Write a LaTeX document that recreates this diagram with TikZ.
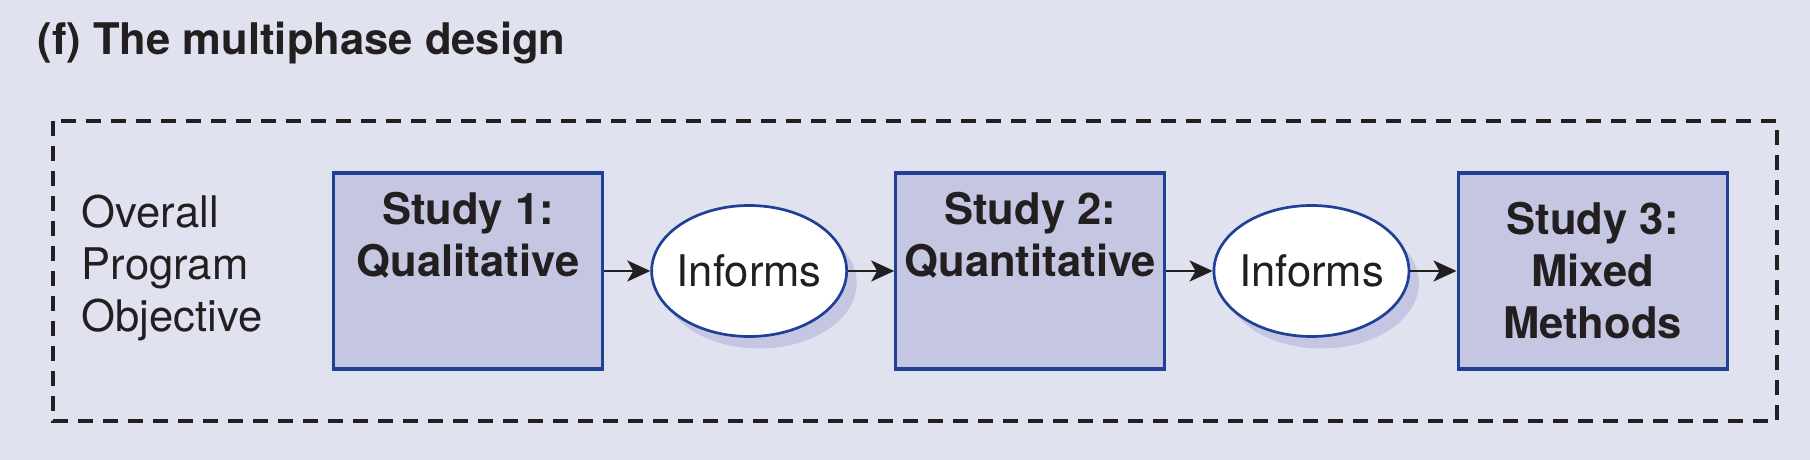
\documentclass[tikz,border=0pt]{standalone}
\usepackage{fontspec}
\setmainfont{TeX Gyre Heros}
\usetikzlibrary{positioning,arrows.meta,shadows,shapes.geometric}
\definecolor{bgc}{RGB}{224,226,240}
\definecolor{boxc}{RGB}{196,198,226}
\definecolor{edgec}{RGB}{31,64,148}
\definecolor{inkc}{RGB}{35,31,32}
\begin{document}
\begin{tikzpicture}[node distance=4.62mm, font=\fontsize{12.4}{14.8}\selectfont, text=inkc,
  study/.style={draw=edgec, fill=boxc, line width=0.032cm, minimum width=2.69cm, minimum height=1.96cm, inner xsep=0pt, align=center, font=\fontsize{12.4}{14.8}\selectfont\bfseries},
  toptext/.style={text height=0.82cm, text depth=0.71cm},
  inform/.style={ellipse, draw=edgec, fill=white, line width=0.027cm, minimum width=1.95cm, minimum height=1.31cm, inner xsep=-0.06cm, inner ysep=0pt, drop shadow={shadow xshift=0.1cm, shadow yshift=-0.12cm, fill=boxc, opacity=1}},
  arr/.style={-{Stealth[length=2.3mm,width=2.1mm,inset=0.6mm]}, line width=0.028cm, draw=inkc}]
\fill[bgc] (0,0) rectangle (18.10,-4.60);
\node[anchor=base west, inner sep=0pt, font=\fontsize{12.4}{14.8}\selectfont\bfseries] (title) at (0.37,-0.55) {(f) The multiphase design};
\draw[draw=inkc, line width=0.033cm, dash pattern=on 0.15cm off 0.10cm] (0.53,-1.21) rectangle (17.77,-4.21);
\node[anchor=west, align=left, inner sep=0pt] (goal) at (0.81,-2.68) {Overall\\Program\\Objective};
\node[study, toptext] (s1) at (4.68,-2.71) {Study 1:\\Qualitative};
\node[inform, right=of s1] (i1) {Informs};
\node[study, toptext, right=of i1] (s2) {Study 2:\\Quantitative};
\node[inform, right=of s2] (i2) {Informs};
\node[study, right=of i2] (s3) {Study 3:\\Mixed\\Methods};
\draw[arr] (s1) -- (i1);
\draw[arr] (i1) -- (s2);
\draw[arr] (s2) -- (i2);
\draw[arr] (i2) -- (s3);
\end{tikzpicture}
\end{document}
